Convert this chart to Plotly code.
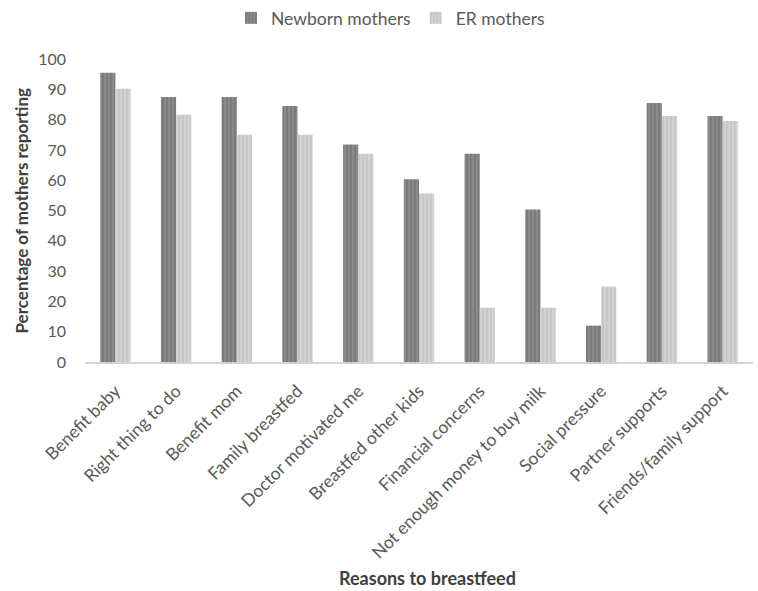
import plotly.graph_objects as go

categories = ["Benefit baby", "Right thing to do", "Benefit mom", "Family breastfed",
              "Doctor motivated me", "Breastfed other kids", "Financial concerns",
              "Not enough money to buy milk", "Social pressure", "Partner supports",
              "Friends/family support"]
newborn = [95.5, 87.5, 87.5, 84.5, 71.8, 60.3, 68.7, 50.3, 12.0, 85.5, 81.2]
er = [90.2, 81.6, 75.0, 75.0, 68.7, 55.6, 17.9, 17.9, 24.9, 81.2, 79.5]
yticks = [0, 10, 20, 30, 40, 50, 60, 70, 80, 90, 100]

FONT = "Lato"
fig = go.Figure()
fig.add_trace(go.Bar(
    name="Newborn mothers", x=categories, y=newborn,
    marker=dict(color="#838383", line=dict(width=0),
                pattern=dict(shape="|", fgcolor="#5e5e5e", bgcolor="#8a8a8a", size=4, solidity=0.35)),
))
fig.add_trace(go.Bar(
    name="ER mothers", x=categories, y=er,
    marker=dict(color="#cacaca", line=dict(width=0),
                pattern=dict(shape="|", fgcolor="#b4b4b4", bgcolor="#d2d2d2", size=4, solidity=0.35)),
))

fig.update_layout(
    width=758, height=591,
    margin=dict(l=85, r=5, t=59, b=229),
    paper_bgcolor="white", plot_bgcolor="white",
    barmode="group", bargap=0.5, bargroupgap=0,
    font=dict(family=FONT, color="#595959", size=14),
    legend=dict(orientation="h", xref="container", yref="container",
                x=231 / 758, y=1 - 18 / 591, xanchor="left", yanchor="middle",
                font=dict(size=17.5, color="#595959"), itemwidth=30,
                traceorder="normal"),
    showlegend=True,
    annotations=[
        dict(text="<b>Reasons to breastfeed</b>", xref="paper", yref="paper",
             x=(427 - 85) / 668, y=-(578 - 362) / 303, xanchor="center", yanchor="middle",
             showarrow=False, font=dict(size=18, color="#404040")),
        dict(text="<b>Percentage of mothers reporting</b>", xref="paper", yref="paper",
             x=-(85 - 21) / 668, y=0.5, xanchor="center", yanchor="middle", textangle=-90,
             showarrow=False, font=dict(size=17, color="#404040")),
    ],
)
fig.update_xaxes(
    tickangle=-45, showgrid=False, showline=True, linecolor="#d3d3d3", linewidth=2,
    ticks="", tickfont=dict(size=17.5, color="#595959"), ticklabelstandoff=10,
    automargin=False,
)
fig.update_yaxes(
    range=[0, 100], tickvals=yticks, showgrid=False, showline=False, zeroline=False,
    ticks="", tickfont=dict(size=16, color="#595959"), ticklabelstandoff=18,
    automargin=False,
)
fig.write_html("out.html", config={"displayModeBar": False},
               post_script="document.body.style.margin='0';")
